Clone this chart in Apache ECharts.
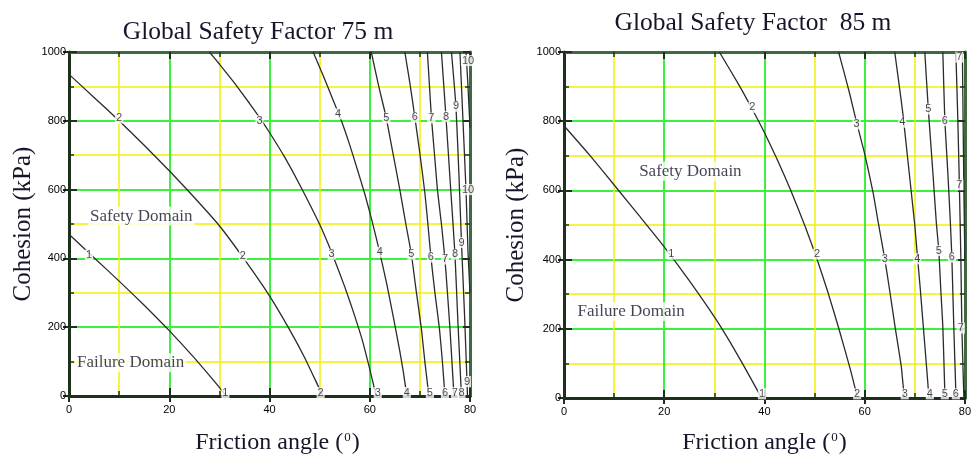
<!DOCTYPE html>
<html>
<head>
<meta charset="utf-8">
<script src="https://cdn.jsdelivr.net/npm/echarts@6/dist/echarts.min.js"></script>
<style>
  html, body { margin: 0; padding: 0; background: #fff; }
  #chart { width: 974px; height: 460px; }
</style>
</head>
<body>
<div id="chart"></div>
<script>
// Axis ticks (both panels share them)
const frictionTicks = [0, 20, 40, 60, 80];
const cohesionTicks = [0, 200, 400, 600, 800, 1000];

// Panel titles and axis names (the degree mark is a rich-text superscript)
const titles = ['Global Safety Factor 75 m', 'Global Safety Factor  85 m'];
const xName = 'Friction angle ({sup|0})';
const yName = 'Cohesion (kPa)';

// 75 m: safety-factor contours, [friction angle, cohesion]
const sf75_1 = [[0,470],[5,402],[10,334],[15,264],[20,190],[25,111],[28,60],[30,25],[31.4,0]];
const sf75_2 = [[0,935],[5,868],[10,800],[15,729],[20,655],[25,577],[30,495],[35,397],[40,291],[44,193],[47,112],[50,20],[50.7,0]];
const sf75_3 = [[28,1000],[30,965],[33,910],[36,851],[38,810],[40,766],[43,695],[46,615],[50,499],[52.4,417],[55,318],[56.7,246],[58.5,163],[60,78],[61.3,0]];
const sf75_4 = [[48.7,1000],[50.7,932],[52.7,860],[54.4,798],[56,730],[57.5,660],[59,588],[60.4,512],[62,417],[63.4,325],[64.7,230],[66,130],[66.7,70],[67.4,0]];
const sf75_5 = [[60.3,1000],[61.8,900],[63.3,808],[64.7,700],[66,600],[67.2,500],[68.3,412],[69.3,302],[70.3,196],[71,99],[71.8,0]];
const sf75_6 = [[67,1000],[68,910],[69,810],[70,705],[71,590],[71.6,500],[72.2,404],[73,300],[73.9,196],[74.5,99],[75,0]];
const sf75_7 = [[71.5,1000],[71.9,905],[72.3,810],[72.9,705],[73.5,600],[74.3,500],[75,398],[75.5,300],[76,196],[76.4,100],[76.8,0]];
const sf75_8 = [[74.3,1000],[75.2,812],[76.1,612],[77,412],[77.6,210],[78.3,0]];
const sf75_9 = [[76.3,1000],[77.2,841],[77.8,640],[78.3,446],[78.9,240],[79.4,42],[79.5,0]];
const sf75_10 = [[78,1000],[78.6,800],[79.2,600],[79.6,420],[80,300]];
const sf75_11 = [[79.2,1000],[79.6,900],[80,780]];
const sf75Lines = [sf75_1, sf75_2, sf75_3, sf75_4, sf75_5, sf75_6, sf75_7, sf75_8, sf75_9, sf75_10, sf75_11];

// 75 m: contour value labels, [friction angle, cohesion, text]
const sf75Labels = [
  [4,410,'1'], [31.2,10,'1'],
  [10,808,'2'], [34.7,407,'2'], [50.2,10,'2'],
  [38,800,'3'], [52.4,412,'3'], [61.6,10,'3'],
  [53.7,820,'4'], [62,418,'4'], [67.4,10,'4'],
  [63.3,808,'5'], [68.3,412,'5'], [72,10,'5'],
  [69,810,'6'], [72.2,404,'6'], [75,10,'6'],
  [72.3,808,'7'], [75,398,'7'], [77,10,'7'],
  [75.2,812,'8'], [77,412,'8'], [78.3,10,'8'],
  [77.2,842,'9'], [78.3,446,'9'], [79.4,42,'9'],
  [79.6,975,'10'], [79.6,600,'10']
];
const sf75Domains = [[3.7,523,'Safety Domain'], [1.1,97,'Failure Domain']];

// 85 m: safety-factor contours, [friction angle, cohesion]
const sf85_1 = [[0,787],[5,704],[10.5,607],[15,527],[20,437],[25,339],[30.3,228],[33,165],[35.6,100],[38.6,22],[39.4,0]];
const sf85_2 = [[31,1000],[34.9,905],[37.6,834],[39.9,770],[42.5,691],[45.2,602],[48.2,493],[50.5,401],[52.7,304],[54.8,203],[57.1,85],[58.1,28],[58.6,0]];
const sf85_3 = [[54.8,1000],[55.8,946],[57,880],[58.4,796],[60.1,700],[61.7,592],[62.7,508],[64,403],[65,310],[66,212],[67.3,92],[67.8,18],[68,0]];
const sf85_4 = [[66,1000],[67,892],[67.6,825],[68.6,690],[70,500],[70.5,415],[71.1,315],[71.6,225],[72.1,135],[72.6,45],[72.8,0]];
const sf85_5 = [[72,1000],[72.7,835],[73.6,654],[74.3,507],[74.8,426],[75.2,310],[75.6,207],[76,16],[76.1,0]];
const sf85_6 = [[75.6,1000],[76,802],[76.6,650],[77.1,507],[77.4,407],[77.8,200],[78.2,16],[78.3,0]];
const sf85_7 = [[78.2,1000],[78.6,800],[78.9,616],[79.2,400],[79.4,202],[79.8,0]];
const sf85_8 = [[79.5,1000],[79.8,600],[80,400]];
const sf85Lines = [sf85_1, sf85_2, sf85_3, sf85_4, sf85_5, sf85_6, sf85_7, sf85_8];

// 85 m: contour value labels
const sf85Labels = [
  [21.4,416,'1'], [39.5,12,'1'],
  [37.6,840,'2'], [50.5,416,'2'], [58.5,12,'2'],
  [58.4,792,'3'], [64,402,'3'], [68,12,'3'],
  [67.5,797,'4'], [70.5,402,'4'], [73,12,'4'],
  [72.7,835,'5'], [74.8,426,'5'], [76,12,'5'],
  [76,802,'6'], [77.4,407,'6'], [78.2,12,'6'],
  [78.9,985,'7'], [78.9,616,'7'], [79.2,202,'7']
];
const sf85Domains = [[14.5,655,'Safety Domain'], [2.2,250,'Failure Domain']];

// ---------- layout / styling ----------
const grids = [
  { left: 69, top: 52, width: 401, height: 346 },
  { left: 564, top: 52, width: 403, height: 350 }
];
const DARK = '#1c301c';
const FRAME = '#3d6b3d';
const GREEN = '#3ef03e';
const YELLOW = '#f2f200';
const tickFont = { fontFamily: 'Liberation Sans, Arial, sans-serif', fontSize: 11, color: '#000' };
const serif = 'Liberation Serif, Times New Roman, serif';
const nameFont = { fontFamily: serif, color: '#16162a' };

function scaleOf(ticks) {
  return { min: ticks[0], max: ticks[ticks.length - 1], interval: ticks[1] - ticks[0] };
}

function axisSet(dim, gridIndex, ticks, name, nameGap, nameSize, namePad) {
  const s = scaleOf(ticks);
  const horizontal = dim === 'x';
  const main = {
    type: 'value', gridIndex, ...s,
    position: horizontal ? 'bottom' : 'left',
    name, nameLocation: 'middle', nameGap,
    nameTextStyle: {
      ...nameFont, fontSize: nameSize, padding: namePad,
      rich: { sup: { fontFamily: serif, color: '#16162a', fontSize: 13, padding: [0, 1, 10, 1] } }
    },
    axisLine: { show: true, onZero: false, lineStyle: { color: DARK, width: 3 } },
    axisTick: { show: true, inside: false, length: 6, lineStyle: { color: DARK, width: 2 } },
    axisLabel: { ...tickFont, margin: horizontal ? 8 : 3, formatter: v => String(v) },
    splitLine: { show: true, lineStyle: { color: GREEN, width: 2 } },
    minorTick: { show: false, splitNumber: 2 },
    minorSplitLine: { show: true, lineStyle: { color: YELLOW, width: 1.5 } },
    z: 2
  };
  const inner = {
    type: 'value', gridIndex, ...s,
    position: horizontal ? 'bottom' : 'left',
    axisLine: { show: false, onZero: false },
    axisTick: { show: true, inside: true, length: 8, lineStyle: { color: DARK, width: 2 } },
    minorTick: { show: true, splitNumber: 2, length: 5, lineStyle: { color: DARK, width: 1.5 } },
    axisLabel: { show: false },
    splitLine: { show: false },
    z: 2
  };
  const opposite = {
    type: 'value', gridIndex, ...s,
    position: horizontal ? 'top' : 'right',
    axisLine: { show: true, onZero: false, lineStyle: { color: FRAME, width: 3 } },
    axisTick: { show: true, inside: true, length: 7, lineStyle: { color: DARK, width: 2 } },
    minorTick: { show: true, splitNumber: 2, length: 5, lineStyle: { color: DARK, width: 1.5 } },
    axisLabel: { show: false },
    splitLine: { show: false },
    z: 2
  };
  return [main, inner, opposite];
}

const xAxes = [
  ...axisSet('x', 0, frictionTicks, xName, 35, 24, [0, 0, 0, 16]),
  ...axisSet('x', 1, frictionTicks, xName, 33, 24, 0)
];
const yAxes = [
  ...axisSet('y', 0, cohesionTicks, yName, 33, 25, 0),
  ...axisSet('y', 1, cohesionTicks, yName, 35, 25, 0)
];

function contourSeries(lines, axisIndex) {
  return lines.map((pts, i) => ({
    type: 'line', name: 'SF ' + (i + 1),
    xAxisIndex: axisIndex, yAxisIndex: axisIndex,
    data: pts, showSymbol: false, smooth: 0.15,
    lineStyle: { color: '#2b2b2b', width: 1.3 },
    silent: true, animation: false, z: 3
  }));
}

function labelSeries(labels, axisIndex) {
  return {
    type: 'scatter', xAxisIndex: axisIndex, yAxisIndex: axisIndex,
    symbol: 'circle', symbolSize: 1, itemStyle: { color: 'rgba(0,0,0,0)' },
    data: labels.map(l => ({ value: [l[0], l[1]], name: l[2] })),
    label: {
      show: true, position: 'inside', formatter: '{b}',
      fontFamily: 'Liberation Sans, Arial, sans-serif', fontSize: 11, color: '#1a1a1a',
      backgroundColor: '#fff', padding: [0, 1], lineHeight: 11
    },
    silent: true, animation: false, z: 5
  };
}

function domainSeries(domains, axisIndex) {
  return {
    type: 'scatter', xAxisIndex: axisIndex, yAxisIndex: axisIndex,
    symbol: 'circle', symbolSize: 1, itemStyle: { color: 'rgba(0,0,0,0)' },
    data: domains.map(d => ({ value: [d[0], d[1]], name: d[2] })),
    label: {
      show: true, position: 'right', distance: 0, formatter: '{b}',
      fontFamily: serif, fontSize: 17, color: '#141428',
      backgroundColor: '#fff', padding: [1, 2]
    },
    silent: true, animation: false, z: 5
  };
}

const chart = echarts.init(document.getElementById('chart'));
chart.setOption({
  backgroundColor: '#fff',
  animation: false,
  title: [
    { text: titles[0], left: 253, top: 14, textAlign: 'center',
      textStyle: { ...nameFont, fontSize: 25.5, fontWeight: 'normal' } },
    { text: titles[1], left: 748, top: 5, textAlign: 'center',
      textStyle: { ...nameFont, fontSize: 25.5, fontWeight: 'normal' } }
  ],
  grid: grids,
  xAxis: xAxes,
  yAxis: yAxes,
  series: [
    ...contourSeries(sf75Lines, 0),
    labelSeries(sf75Labels, 0),
    domainSeries(sf75Domains, 0),
    ...contourSeries(sf85Lines, 3),
    labelSeries(sf85Labels, 3),
    domainSeries(sf85Domains, 3)
  ]
});
</script>
</body>
</html>
